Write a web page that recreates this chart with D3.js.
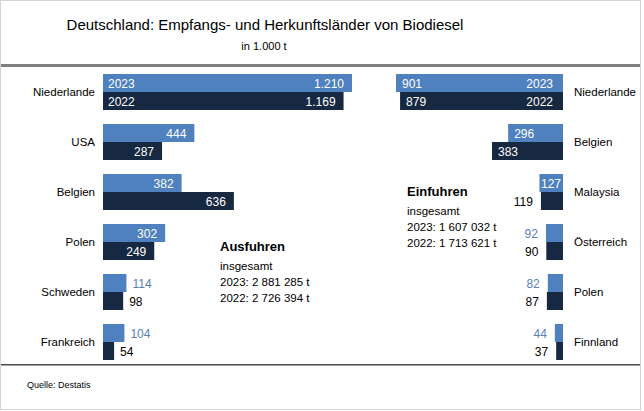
<!DOCTYPE html>
<html>
<head>
<meta charset="utf-8">
<script src="https://cdn.jsdelivr.net/npm/d3@7"></script>
<style>
  body { margin: 0; background: #fff; }
  text { font-family: "Liberation Sans", Arial, sans-serif; }
</style>
</head>
<body>
<div id="chart"></div>
<script>
const years = ["2023", "2022"];

const exportCountries = ["Niederlande", "USA", "Belgien", "Polen", "Schweden", "Frankreich"];
const export2023 = [1210, 444, 382, 302, 114, 104];
const export2022 = [1169, 287, 636, 249, 98, 54];

const importCountries = ["Niederlande", "Belgien", "Malaysia", "Österreich", "Polen", "Finnland"];
const import2023 = [901, 296, 127, 92, 82, 44];
const import2022 = [879, 383, 119, 90, 87, 37];

const exportTotals = ["insgesamt", "2023: 2 881 285 t", "2022: 2 726 394 t"];
const importTotals = ["insgesamt", "2023: 1 607 032 t", "2022: 1 713 621 t"];

const width = 644, height = 411;
const c2023 = "#4f81c0", c2022 = "#172842";
const fmt = d3.formatLocale({ decimal: ",", thousands: ".", grouping: [3], currency: ["", "€"] }).format(",d");

const svg = d3.select("#chart")
  .append("svg")
  .attr("width", width)
  .attr("height", height);

// frame and rules
svg.append("rect")
  .attr("x", 0.5).attr("y", 0.5)
  .attr("width", width - 4).attr("height", height - 2)
  .attr("fill", "none")
  .attr("stroke", "#d4d4d4");

svg.append("rect")
  .attr("x", 1).attr("y", 64)
  .attr("width", width - 5).attr("height", 3)
  .attr("fill", "#7f7f7f");

svg.append("rect")
  .attr("x", 1).attr("y", 364)
  .attr("width", width - 5).attr("height", 1.5)
  .attr("fill", "#4a4a4a");

svg.append("text")
  .attr("x", 265).attr("y", 30)
  .attr("text-anchor", "middle")
  .attr("font-size", "15px")
  .attr("fill", "#000")
  .text("Deutschland: Empfangs- und Herkunftsländer von Biodiesel");

svg.append("text")
  .attr("x", 264).attr("y", 50)
  .attr("text-anchor", "middle")
  .attr("font-size", "11px")
  .attr("fill", "#000")
  .text("in 1.000 t");

svg.append("text")
  .attr("x", 27).attr("y", 388)
  .attr("font-size", "9px")
  .attr("fill", "#000")
  .text("Quelle: Destatis");

function drawPanel(countries, v2023, v2022, side) {
  const left = side === "left";
  const xScale = d3.scaleLinear()
    .domain([0, d3.max(v2023.concat(v2022))])
    .range(left ? [103, 352] : [563, 396]);

  const yScale = d3.scaleBand()
    .domain(countries)
    .range([74, 360])
    .paddingInner(0.28);

  const yearScale = d3.scaleBand()
    .domain(years)
    .range([0, yScale.bandwidth()]);

  const rows = [];
  countries.forEach((c, i) => {
    rows.push({ country: c, year: "2023", value: v2023[i], first: i === 0 });
    rows.push({ country: c, year: "2022", value: v2022[i], first: i === 0 });
  });

  const g = svg.append("g");

  g.selectAll(".bar")
    .data(rows)
    .enter()
    .append("rect")
    .attr("class", "bar")
    .attr("x", d => left ? xScale(0) : xScale(d.value))
    .attr("y", d => yScale(d.country) + yearScale(d.year))
    .attr("width", d => Math.abs(xScale(d.value) - xScale(0)))
    .attr("height", yearScale.bandwidth())
    .attr("fill", d => d.year === "2023" ? c2023 : c2022);

  // value labels: inside the bar when it is long enough, otherwise outside
  g.selectAll(".value")
    .data(rows)
    .enter()
    .append("text")
    .attr("class", "value")
    .attr("font-size", "12px")
    .attr("y", d => yScale(d.country) + yearScale(d.year) + yearScale.bandwidth() / 2 + 4.5)
    .text(d => fmt(d.value))
    .each(function(d) {
      const inside = d.value >= 120;
      const t = d3.select(this);
      const barW = Math.abs(xScale(d.value) - xScale(0));
      const pad = Math.max(1, Math.min(6, barW - this.getComputedTextLength() - 2));
      if (left) {
        t.attr("x", inside ? xScale(d.value) - 8 : xScale(d.value) + 6)
          .attr("text-anchor", inside ? "end" : "start");
      } else {
        t.attr("x", inside ? xScale(d.value) + pad : xScale(d.value) - 8)
          .attr("text-anchor", inside ? "start" : "end");
      }
      t.attr("fill", inside ? "#fff" : (d.year === "2023" ? "#5a80b8" : "#000"));
    });

  // year labels on the first group
  g.selectAll(".year")
    .data(rows.filter(d => d.first))
    .enter()
    .append("text")
    .attr("class", "year")
    .attr("font-size", "12px")
    .attr("fill", "#fff")
    .attr("x", left ? xScale(0) + 5 : xScale(0) - 10)
    .attr("text-anchor", left ? "start" : "end")
    .attr("y", d => yScale(d.country) + yearScale(d.year) + yearScale.bandwidth() / 2 + 4.5)
    .text(d => d.year);

  g.selectAll(".country")
    .data(countries)
    .enter()
    .append("text")
    .attr("class", "country")
    .attr("font-size", "11.5px")
    .attr("fill", "#000")
    .attr("x", left ? 95 : 574)
    .attr("text-anchor", left ? "end" : "start")
    .attr("y", d => yScale(d) + yScale.bandwidth() / 2 + 4)
    .text(d => d);
}

function drawTotals(title, lines, x, y) {
  svg.append("text")
    .attr("x", x).attr("y", y)
    .attr("font-size", "13px")
    .attr("font-weight", "bold")
    .attr("fill", "#000")
    .text(title);
  svg.selectAll(null)
    .data(lines)
    .enter()
    .append("text")
    .attr("x", x)
    .attr("y", (d, i) => y + 19 + i * 16)
    .attr("font-size", "11.5px")
    .attr("fill", "#000")
    .text(d => d);
}

drawPanel(exportCountries, export2023, export2022, "left");
drawPanel(importCountries, import2023, import2022, "right");

drawTotals("Ausfuhren", exportTotals, 220, 251);
drawTotals("Einfuhren", importTotals, 407, 196);
</script>
</body>
</html>
